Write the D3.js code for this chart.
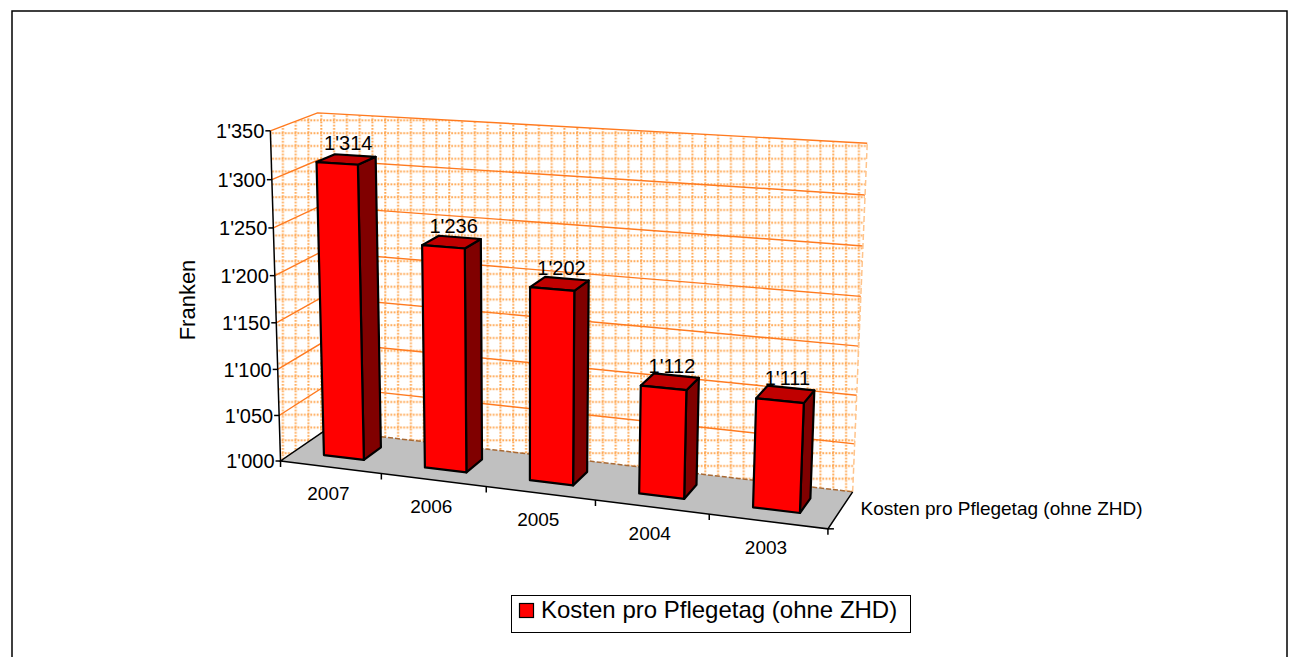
<!DOCTYPE html>
<html>
<head>
<meta charset="utf-8">
<script src="https://cdn.jsdelivr.net/npm/d3@7"></script>
<style>
  body { margin: 0; background: #fff; }
  svg { display: block; font-family: "Liberation Sans", Arial, sans-serif; }
</style>
</head>
<body>
<div id="chart"></div>
<script>
var years = ["2007", "2006", "2005", "2004", "2003"];
var kosten = [1314, 1236, 1202, 1112, 1111];
var yTicks = [1000, 1050, 1100, 1150, 1200, 1250, 1300, 1350];
var seriesName = "Kosten pro Pflegetag (ohne ZHD)";
var yTitle = "Franken";

var svgWidth = 1289;
var svgHeight = 657;

// where the corners of the plot box land on screen: [x, value, depth] -> [px, py]
var frame = [
  [0, 0, 0, 282, 459],
  [0, 1, 0, 268, 131],
  [0, 0, 1, 323, 432],
  [0, 1, 1, 320, 113],
  [1, 0, 0, 827, 530],
  [1, 0, 1, 853, 490],
  [1, 1, 1, 867, 143],
  [0.2, 0, 0, 382, 473],
  [0.4, 0, 0, 487, 486],
  [0.6, 0, 0, 595, 501],
  [0.8, 0, 0, 710, 515]
];

// fit a perspective projection to the frame points (least squares)
function fitProjection(pts) {
  var A = [], b = [];
  pts.forEach(function(p) {
    var X = p[0], Y = p[1], Z = p[2], u = p[3], v = p[4];
    A.push([X, Y, Z, 1, 0, 0, 0, 0, -u * X, -u * Y, -u * Z]); b.push(u);
    A.push([0, 0, 0, 0, X, Y, Z, 1, -v * X, -v * Y, -v * Z]); b.push(v);
  });
  var n = 11, M = [];
  for (var i = 0; i < n; i++) {
    M.push(new Array(n + 1).fill(0));
    for (var k = 0; k < A.length; k++) {
      for (var j = 0; j < n; j++) M[i][j] += A[k][i] * A[k][j];
      M[i][n] += A[k][i] * b[k];
    }
  }
  for (var c = 0; c < n; c++) {
    var piv = c;
    for (var r = c + 1; r < n; r++) if (Math.abs(M[r][c]) > Math.abs(M[piv][c])) piv = r;
    var t = M[c]; M[c] = M[piv]; M[piv] = t;
    for (var r2 = 0; r2 < n; r2++) {
      if (r2 === c) continue;
      var f = M[r2][c] / M[c][c];
      for (var j2 = c; j2 <= n; j2++) M[r2][j2] -= f * M[c][j2];
    }
  }
  var p = M.map(function(row, i) { return row[n] / row[i]; });
  return function(x, y, z) {
    var w = p[8] * x + p[9] * y + p[10] * z + 1;
    return [(p[0] * x + p[1] * y + p[2] * z + p[3]) / w,
            (p[4] * x + p[5] * y + p[6] * z + p[7]) / w];
  };
}
var proj = fitProjection(frame);

var x = d3.scaleBand().domain(years).range([0, 1]).paddingInner(0.6).paddingOuter(0.3);
var y = d3.scaleLinear().domain([1000, 1350]).range([0, 1]);
var zFront = 0.3, zBack = 0.7;

var fmt = d3.formatLocale({ decimal: ".", thousands: "'", grouping: [3], currency: ["", ""] }).format(",");

function poly(pts) {
  return d3.line()(pts.map(function(p) { return proj(p[0], p[1], p[2]); })) + "Z";
}

var svg = d3.select("#chart").append("svg")
  .attr("width", svgWidth)
  .attr("height", svgHeight);

// wall pattern (small dotted grid, screen aligned)
var pat = svg.append("defs").append("pattern")
  .attr("id", "wallGrid")
  .attr("patternUnits", "userSpaceOnUse")
  .attr("width", 12.8).attr("height", 12.8);
pat.append("rect").attr("width", 12.8).attr("height", 12.8).attr("fill", "#fff");
pat.append("line").attr("x1", 1.3).attr("x2", 1.3).attr("y1", 0).attr("y2", 12.8)
  .attr("stroke", "#ffa64f").attr("stroke-width", 2).attr("stroke-dasharray", "1.8 1.4");
pat.append("line").attr("x1", 0).attr("x2", 12.8).attr("y1", 5.2).attr("y2", 5.2)
  .attr("stroke", "#ffa64f").attr("stroke-width", 2).attr("stroke-dasharray", "1.8 1.4");

// outer border
svg.append("rect")
  .attr("x", 12).attr("y", 11).attr("width", 1275).attr("height", 700)
  .attr("fill", "none").attr("stroke", "#000").attr("stroke-width", 1.5);

// walls
svg.append("path").attr("d", poly([[0, 0, 0], [0, 1, 0], [0, 1, 1], [0, 0, 1]]))
  .attr("fill", "url(#wallGrid)");
svg.append("path").attr("d", poly([[0, 0, 1], [0, 1, 1], [1, 1, 1], [1, 0, 1]]))
  .attr("fill", "url(#wallGrid)");

// major gridlines on side and back wall
yTicks.slice(1).forEach(function(v) {
  svg.append("path")
    .attr("d", d3.line()([proj(0, y(v), 0), proj(0, y(v), 1), proj(1, y(v), 1)]))
    .attr("fill", "none")
    .attr("stroke", "#ff7a1f")
    .attr("stroke-width", 1.4);
});

// right edge of back wall
svg.append("path")
  .attr("d", d3.line()([proj(1, 0, 1), proj(1, 1, 1)]))
  .attr("stroke", "#ffc48c").attr("stroke-width", 1.5).attr("stroke-dasharray", "6 3");

// floor
svg.append("path").attr("d", poly([[0, 0, 0], [1, 0, 0], [1, 0, 1], [0, 0, 1]]))
  .attr("fill", "#c0c0c0");
svg.append("path")
  .attr("d", d3.line()([proj(0, 0, 1), proj(1, 0, 1)]))
  .attr("stroke", "#a86a35").attr("stroke-width", 1.5).attr("stroke-dasharray", "5 2");
svg.append("path")
  .attr("d", d3.line()([proj(0, 0, 1), proj(0, 0, 0), proj(1, 0, 0), proj(1, 0, 1)]))
  .attr("fill", "none").attr("stroke", "#000").attr("stroke-width", 1.5);

// value axis
svg.append("path")
  .attr("d", d3.line()([proj(0, 0, 0), proj(0, 1, 0)]))
  .attr("stroke", "#000").attr("stroke-width", 1.5);
yTicks.forEach(function(v) {
  var p = proj(0, y(v), 0);
  svg.append("line")
    .attr("x1", p[0] - 5).attr("x2", p[0]).attr("y1", p[1]).attr("y2", p[1])
    .attr("stroke", "#000").attr("stroke-width", 1.5);
  svg.append("text")
    .attr("x", p[0] - 6).attr("y", p[1])
    .attr("dy", "0.36em")
    .attr("text-anchor", "end")
    .attr("font-size", "20px")
    .text(fmt(v));
});

// category axis ticks and labels
d3.range(years.length + 1).forEach(function(i) {
  var p = proj(i * x.step(), 0, 0);
  svg.append("line")
    .attr("x1", p[0]).attr("x2", p[0]).attr("y1", p[1]).attr("y2", p[1] + 6)
    .attr("stroke", "#000").attr("stroke-width", 1.5);
});
years.forEach(function(d) {
  var p = proj(x(d) + x.bandwidth() / 2, 0, 0);
  svg.append("text")
    .attr("x", p[0] - 2).attr("y", p[1] + 33)
    .attr("text-anchor", "middle")
    .attr("font-size", "19px")
    .text(d);
});

// depth axis tick and label
var pc = proj(1, 0, 0);
svg.append("line")
  .attr("x1", pc[0]).attr("x2", pc[0] + 6).attr("y1", pc[1]).attr("y2", pc[1])
  .attr("stroke", "#000").attr("stroke-width", 1.5);
var pm = proj(1, 0, 0.5);
svg.append("text")
  .attr("x", pm[0] + 20).attr("y", pm[1] + 5)
  .attr("font-size", "19px")
  .text(seriesName);

// bars
years.forEach(function(d, i) {
  var x0 = x(d), x1 = x(d) + x.bandwidth(), h = y(kosten[i]);
  var g = svg.append("g")
    .attr("stroke", "#000")
    .attr("stroke-width", 2.2)
    .attr("stroke-linejoin", "round");
  g.append("path").attr("fill", "#800000")
    .attr("d", poly([[x1, 0, zFront], [x1, 0, zBack], [x1, h, zBack], [x1, h, zFront]]));
  g.append("path").attr("fill", "#c00000")
    .attr("d", poly([[x0, h, zFront], [x1, h, zFront], [x1, h, zBack], [x0, h, zBack]]));
  g.append("path").attr("fill", "#ff0000")
    .attr("d", poly([[x0, 0, zFront], [x1, 0, zFront], [x1, h, zFront], [x0, h, zFront]]));

  var t = proj((x0 + x1) / 2, h, 0.5);
  svg.append("text")
    .attr("x", t[0] + 2).attr("y", t[1] - 9)
    .attr("text-anchor", "middle")
    .attr("font-size", "20px")
    .text(fmt(kosten[i]));
});

// axis title
svg.append("text")
  .attr("transform", "translate(195,300) rotate(-90)")
  .attr("text-anchor", "middle")
  .attr("font-size", "22px")
  .text(yTitle);

// legend
svg.append("rect")
  .attr("x", 511.5).attr("y", 595.5).attr("width", 399).attr("height", 37)
  .attr("fill", "#fff").attr("stroke", "#000").attr("stroke-width", 1);
svg.append("rect")
  .attr("x", 519.5).attr("y", 603.5).attr("width", 14).attr("height", 14)
  .attr("fill", "#ff0000").attr("stroke", "#000").attr("stroke-width", 1.2);
svg.append("text")
  .attr("x", 541).attr("y", 618)
  .attr("font-size", "24px")
  .text(seriesName);
</script>
</body>
</html>
